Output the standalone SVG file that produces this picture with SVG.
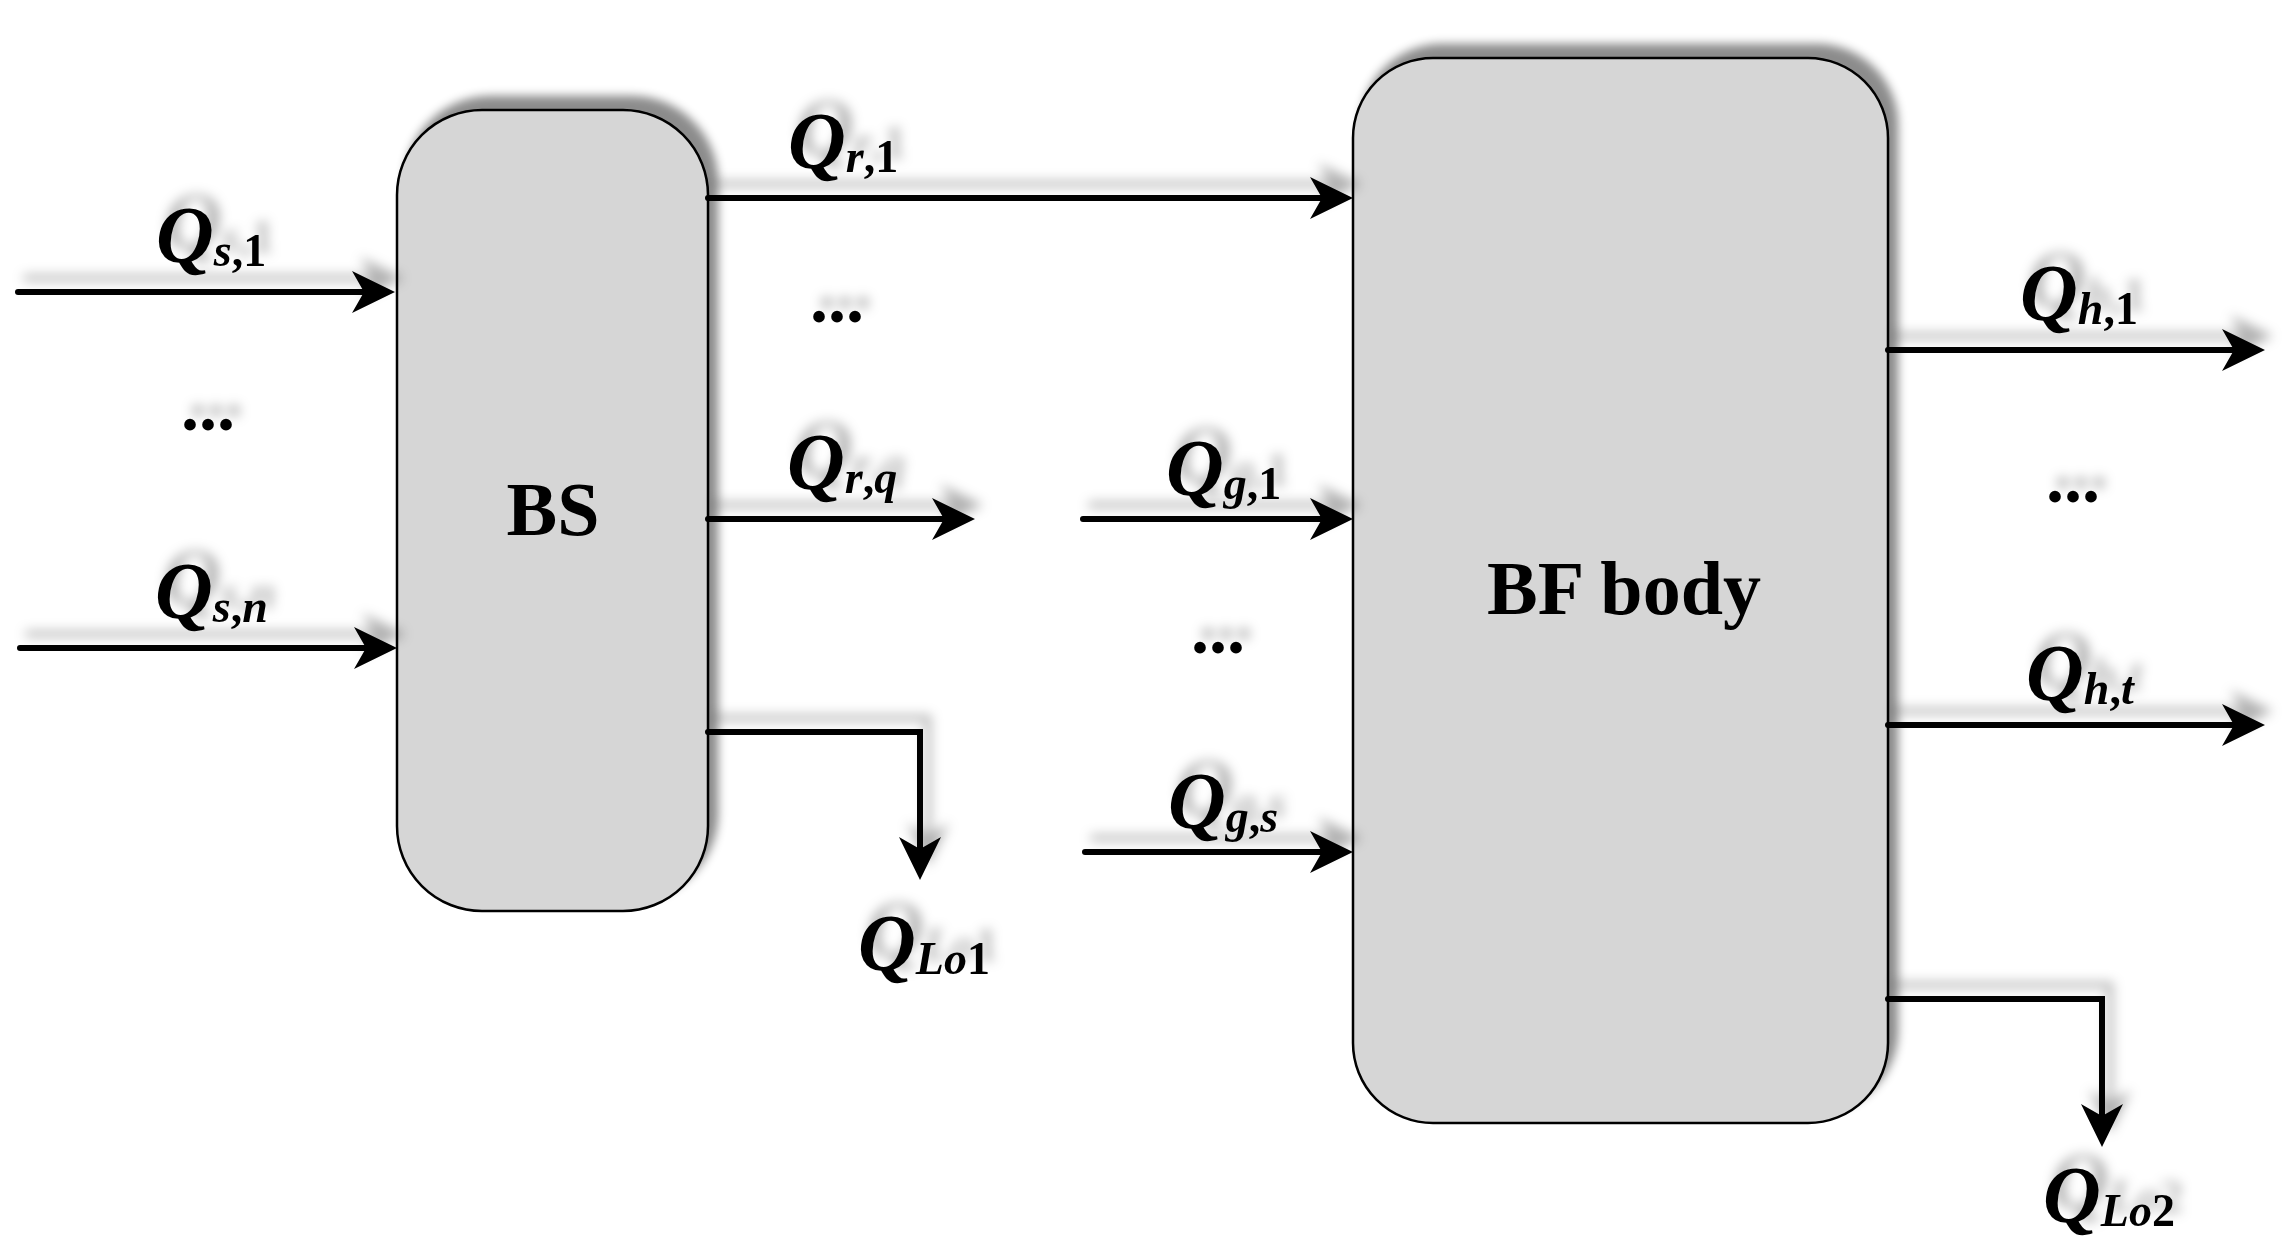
<svg xmlns="http://www.w3.org/2000/svg" width="2293" height="1258" viewBox="0 0 2293 1258">
<style>
.box{fill:#d6d6d6;stroke:#000;stroke-width:2.5}
.name{font-family:"Liberation Serif","Times New Roman",serif;font-weight:bold;font-size:76px;fill:#000;text-anchor:middle}
.flow{fill:none;stroke:#000;stroke-width:6;stroke-linecap:round;stroke-linejoin:miter;marker-end:url(#ah)}
.lbl{font-family:"Liberation Serif","Times New Roman",serif;font-weight:bold;font-size:80px;fill:#000}
.q{font-style:italic}
.si{font-style:italic;font-size:46px}
.sn{font-style:normal;font-size:46px}
.dots{font-family:"Liberation Serif","Times New Roman",serif;font-weight:bold;font-size:72px;fill:#000;text-anchor:middle}
</style>
<defs>
<filter id="sh" x="-10%" y="-10%" width="120%" height="120%" color-interpolation-filters="sRGB">
<feGaussianBlur in="SourceAlpha" stdDeviation="5"/>
<feOffset dx="9" dy="-13" result="b"/>
<feFlood flood-color="#000" flood-opacity="0.45"/>
<feComposite in2="b" operator="in"/>
<feMerge><feMergeNode/><feMergeNode in="SourceGraphic"/></feMerge>
</filter>
<filter id="shl" x="-10%" y="-10%" width="120%" height="120%" color-interpolation-filters="sRGB">
<feGaussianBlur in="SourceAlpha" stdDeviation="6"/>
<feOffset dx="8" dy="-14" result="b"/>
<feFlood flood-color="#000" flood-opacity="0.3"/>
<feComposite in2="b" operator="in"/>
<feMerge><feMergeNode/><feMergeNode in="SourceGraphic"/></feMerge>
</filter>
<marker id="ah" markerUnits="userSpaceOnUse" markerWidth="50" markerHeight="50" refX="11" refY="0" orient="auto" overflow="visible">
<path d="M0,-21 L43,0 L0,21 L12,0 Z" fill="#000"/>
</marker>
</defs>
<rect width="2293" height="1258" fill="#fff"/>

<g id="BS">
<rect class="box" x="397" y="110" width="311" height="801" rx="85" ry="85" filter="url(#sh)"/>
<text class="name" x="553" y="535">BS</text>
</g>

<g id="BF_body">
<rect class="box" x="1353" y="58" width="535" height="1065" rx="80" ry="80" filter="url(#sh)"/>
<text class="name" x="1624" y="614">BF body</text>
</g>

<g id="connectors" filter="url(#shl)">
<path class="flow" d="M18,292 H363"/>
<path class="flow" d="M20,648 H365"/>
<path class="flow" d="M708,198 H1321"/>
<path class="flow" d="M708,519 H943"/>
<path class="flow" d="M708,732 H920 V848"/>
<path class="flow" d="M1083,519 H1321"/>
<path class="flow" d="M1085,852 H1321"/>
<path class="flow" d="M1888,350 H2233"/>
<path class="flow" d="M1888,725 H2233"/>
<path class="flow" d="M1888,999 H2102 V1115"/>
</g>

<g id="labels" filter="url(#shl)">
<text class="lbl" x="156" y="262"><tspan class="q">Q</tspan><tspan class="si" dy="4">s</tspan><tspan class="sn">,1</tspan></text>
<text class="lbl" x="155" y="618"><tspan class="q">Q</tspan><tspan class="si" dy="4">s</tspan><tspan class="sn">,</tspan><tspan class="si">n</tspan></text>
<text class="lbl" x="788" y="168"><tspan class="q">Q</tspan><tspan class="si" dy="4">r</tspan><tspan class="sn">,1</tspan></text>
<text class="lbl" x="787" y="489"><tspan class="q">Q</tspan><tspan class="si" dy="4">r</tspan><tspan class="sn">,</tspan><tspan class="si">q</tspan></text>
<text class="lbl" x="858" y="970"><tspan class="q">Q</tspan><tspan class="si" dy="4">Lo</tspan><tspan class="sn">1</tspan></text>
<text class="lbl" x="1166" y="495"><tspan class="q">Q</tspan><tspan class="si" dy="4">g</tspan><tspan class="sn">,1</tspan></text>
<text class="lbl" x="1168" y="828"><tspan class="q">Q</tspan><tspan class="si" dy="4">g</tspan><tspan class="sn">,</tspan><tspan class="si">s</tspan></text>
<text class="lbl" x="2020" y="320"><tspan class="q">Q</tspan><tspan class="si" dy="4">h</tspan><tspan class="sn">,1</tspan></text>
<text class="lbl" x="2026" y="700"><tspan class="q">Q</tspan><tspan class="si" dy="4">h</tspan><tspan class="sn">,</tspan><tspan class="si">t</tspan></text>
<text class="lbl" x="2043" y="1222"><tspan class="q">Q</tspan><tspan class="si" dy="4">Lo</tspan><tspan class="sn">2</tspan></text>
<text class="dots" x="208" y="430">...</text>
<text class="dots" x="837" y="322">...</text>
<text class="dots" x="1218" y="653">...</text>
<text class="dots" x="2073" y="502">...</text>
</g>
</svg>
